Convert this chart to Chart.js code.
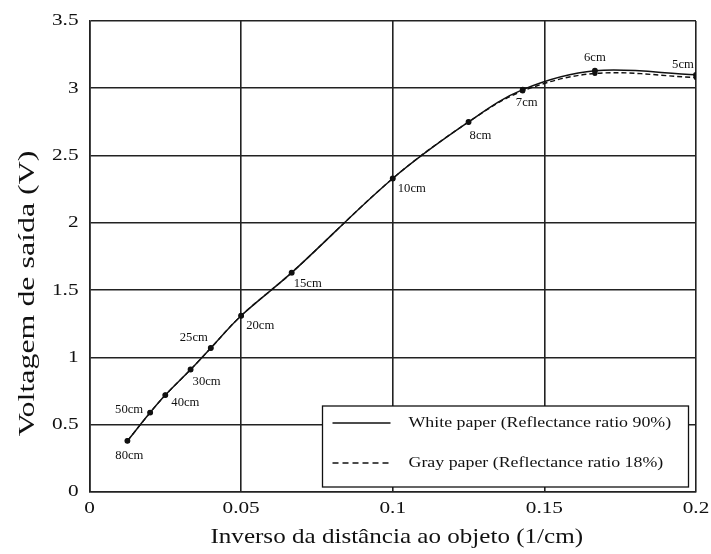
<!DOCTYPE html>
<html>
<head>
<meta charset="utf-8">
<script src="https://cdn.jsdelivr.net/npm/chart.js@4/dist/chart.umd.min.js"></script>
<style>
  html, body { margin: 0; padding: 0; background: #fff; }
  #wrap { width: 711px; height: 554px; }
</style>
</head>
<body>
<div id="wrap"><canvas id="c" width="711" height="554"></canvas></div>
<script>
// Distances to the target and sensor output voltages
const distancesCm = [80, 50, 40, 30, 25, 20, 15, 10, 8, 7, 6, 5];
const whitePaperV = [0.38, 0.59, 0.72, 0.91, 1.07, 1.31, 1.63, 2.33, 2.75, 2.99, 3.13, 3.10];
const grayPaperV  = [0.38, 0.59, 0.72, 0.91, 1.07, 1.31, 1.63, 2.33, 2.75, 2.98, 3.11, 3.08];
const xTickLabels = ['0', '0.05', '0.1', '0.15', '0.2'];
const yTickLabels = ['0', '0.5', '1', '1.5', '2', '2.5', '3', '3.5'];
const xTitle = 'Inverso da distância ao objeto (1/cm)';
const yTitle = 'Voltagem de saída (V)';
const legendLabels = ['White paper (Reflectance ratio 90%)', 'Gray paper (Reflectance ratio 18%)'];

// label placement around each point: [dx, dy, align]
const labelOffsets = {
  80: [2, 15, 'center'], 50: [-21, -3, 'center'], 40: [6, 8, 'left'], 30: [2, 12, 'left'],
  25: [-17, -10, 'center'], 20: [5, 10, 'left'], 15: [2, 11, 'left'], 10: [5, 11, 'left'],
  8: [1, 14, 'left'], 7: [4, 13, 'center'], 6: [0, -13, 'center'], 5: [-13, -10, 'center']
};

const inv = distancesCm.map(d => 1 / d);
const toPts = vals => inv.map((x, i) => ({ x: x, y: vals[i] }));

const SERIF = '"Liberation Serif", "Times New Roman", serif';
const INK = '#111';
const WIDE = 1.25; // horizontal stretch of the serif lettering

// text drawn with a stretch factor along its own baseline direction
function wideText(ctx, text, x, y, size, align, sx, rot) {
  ctx.save();
  ctx.font = size + 'px ' + SERIF;
  ctx.fillStyle = INK;
  ctx.textBaseline = 'middle';
  ctx.textAlign = align;
  ctx.translate(x, y);
  if (rot) ctx.rotate(rot);
  ctx.scale(sx, 1);
  ctx.fillText(text, 0, 0);
  ctx.restore();
}

const textLayer = {
  id: 'textLayer',
  afterDraw(chart) {
    const ctx = chart.ctx, xs = chart.scales.x, ys = chart.scales.y, a = chart.chartArea;
    // tick labels
    xTickLabels.forEach(t => wideText(ctx, t, xs.getPixelForValue(parseFloat(t)), a.bottom + 17, 17, 'center', WIDE));
    yTickLabels.forEach(t => wideText(ctx, t, a.left - 11, ys.getPixelForValue(parseFloat(t)), 17, 'right', WIDE));
    // axis titles
    wideText(ctx, xTitle, (a.left + a.right) / 2 + 4, a.bottom + 45, 22, 'center', 1.14);
    wideText(ctx, yTitle, 28, (a.top + a.bottom) / 2 + 37, 24, 'center', 1.33, -Math.PI / 2);
    // distance annotations next to each point
    distancesCm.forEach((d, i) => {
      const o = labelOffsets[d];
      wideText(ctx, d + 'cm', xs.getPixelForValue(inv[i]) + o[0], ys.getPixelForValue(whitePaperV[i]) + o[1], 11.5, o[2], 1.1);
    });
    // legend box
    const x0 = a.left + 233, y0 = a.bottom - 86, w = 366, h = 81;
    ctx.save();
    ctx.fillStyle = '#fff';
    ctx.fillRect(x0, y0, w, h);
    ctx.strokeStyle = INK;
    ctx.lineWidth = 1.3;
    ctx.strokeRect(x0, y0, w, h);
    const rows = [y0 + 17, y0 + 57];
    rows.forEach((yy, i) => {
      ctx.beginPath();
      ctx.setLineDash(i === 0 ? [] : [6, 4]);
      ctx.lineWidth = 1.4;
      ctx.moveTo(x0 + 10, yy);
      ctx.lineTo(x0 + 68, yy);
      ctx.stroke();
      ctx.setLineDash([]);
      wideText(ctx, legendLabels[i], x0 + 86, yy, 15, 'left', 1.19);
    });
    ctx.restore();
  }
};

new Chart(document.getElementById('c'), {
  type: 'scatter',
  data: {
    datasets: [
      {
        label: legendLabels[0],
        data: toPts(whitePaperV),
        showLine: true,
        borderColor: INK,
        backgroundColor: INK,
        borderWidth: 1.5,
        pointRadius: 2.2,
        tension: 0.35
      },
      {
        label: legendLabels[1],
        data: toPts(grayPaperV),
        showLine: true,
        borderColor: INK,
        backgroundColor: INK,
        borderWidth: 1.4,
        borderDash: [5, 3],
        pointRadius: 1.8,
        tension: 0.35
      }
    ]
  },
  options: {
    responsive: false,
    animation: false,
    layout: { padding: { top: 21, right: 15, left: 0, bottom: 0 } },
    plugins: { legend: { display: false }, tooltip: { enabled: false } },
    scales: {
      x: {
        type: 'linear', min: 0, max: 0.2,
        afterFit: s => { s.height = 62; },
        afterBuildTicks: s => { s.ticks = xTickLabels.map(t => ({ value: parseFloat(t) })); },
        ticks: { display: false },
        grid: { color: '#222', lineWidth: 1.6, drawTicks: false },
        border: { color: '#222', width: 1.6 }
      },
      y: {
        type: 'linear', min: 0, max: 3.5,
        afterFit: s => { s.width = 89.5; },
        afterBuildTicks: s => { s.ticks = yTickLabels.map(t => ({ value: parseFloat(t) })); },
        ticks: { display: false },
        grid: { color: '#222', lineWidth: 1.6, drawTicks: false },
        border: { color: '#222', width: 1.6 }
      }
    }
  },
  plugins: [textLayer]
});
</script>
</body>
</html>
